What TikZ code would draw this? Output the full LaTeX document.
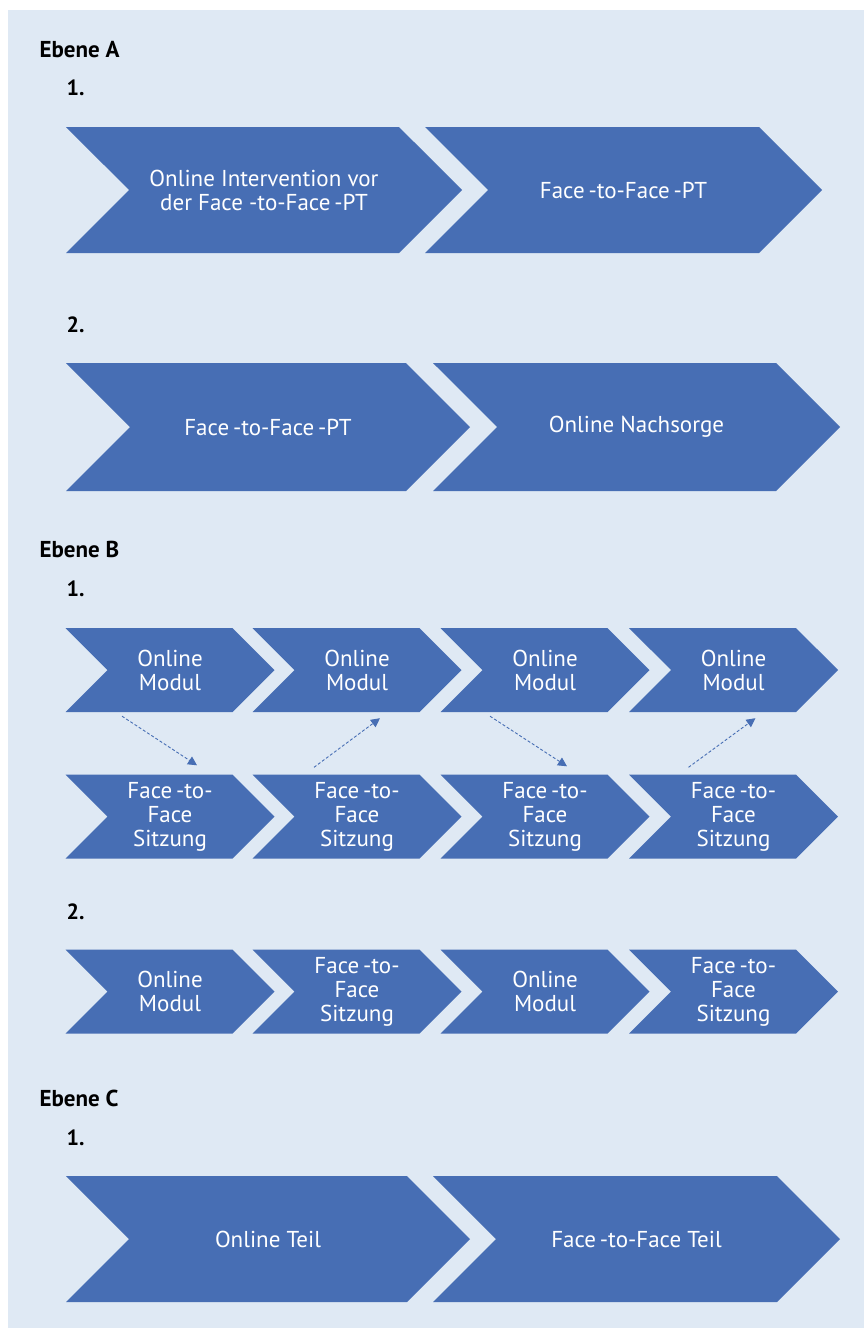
\documentclass[tikz,border=0pt]{standalone}
\usepackage{fontspec}
\setmainfont{PT Sans}
\usetikzlibrary{shapes.symbols,arrows.meta,calc}
\definecolor{chevblue}{RGB}{71,110,180}
\definecolor{panelbg}{RGB}{223,233,244}
\tikzset{
  stage/.style={signal, signal from=west, signal to=east, fill=chevblue,
    text=white, align=center, inner sep=0pt,
    font=\fontsize{23}{24}\selectfont},
  bigstage/.style={stage, minimum height=126pt},
  smallstage/.style={stage, minimum width=209pt, minimum height=84pt},
  level/.style={anchor=base west, font=\fontsize{23}{24}\selectfont\bfseries},
  itemno/.style={anchor=base west, font=\fontsize{22}{24}\selectfont\bfseries},
  link/.style={chevblue, line width=0.9pt, dash pattern=on 3pt off 2pt,
    -{Triangle[width=9pt,length=9pt]}}
}
\begin{document}
\begin{tikzpicture}[x=1pt,y=-1pt]
		\useasboundingbox (0,0) rectangle (864,1328);
		\fill[panelbg] (8,10) rectangle (864,1328);
		% Ebene A
		\node[level] (ebA) at (36,57) {Ebene A};
		\node[itemno] (nA1) at (63,95) {1.};
		\node[bigstage, minimum width=396pt] (a11) at (264,190) {Online Intervention vor\\der Face -to-Face\,-PT};
		\node[bigstage, minimum width=397pt] (a12) at (623.5,190) {Face\,-to-Face\,-PT};
		\node[itemno] (nA2) at (63,332.5) {2.};
		\node[bigstage, minimum width=404pt, minimum height=128pt] (a21) at (268,427) {Face\,-to-Face\,-PT};
		\node[bigstage, minimum width=407pt, minimum height=128pt] (a22) at (636.5,427) {Online Nachsorge};
		% Ebene B
		\node[level] (ebB) at (36,557) {Ebene B};
		\node[itemno] (nB1) at (63,596) {1.};
		\node[smallstage] (b11) at (170,670) {Online\\Modul};
		\node[smallstage] (b12) at (357,670) {Online\\Modul};
		\node[smallstage] (b13) at (545,670) {Online\\Modul};
		\node[smallstage] (b14) at (733.5,670) {Online\\Modul};
		\node[smallstage] (b21) at (170,816.5) {Face\,-to-\\Face\\Sitzung};
		\node[smallstage] (b22) at (357,816.5) {Face\,-to-\\Face\\Sitzung};
		\node[smallstage] (b23) at (545,816.5) {Face\,-to-\\Face\\Sitzung};
		\node[smallstage] (b24) at (733.5,816.5) {Face\,-to-\\Face\\Sitzung};
		\draw[link] ($(b11.south)+(-48,4)$) -- ($(b21.north)+(27,-9)$);
		\draw[link] ($(b22.north)+(-43,-7)$) -- ($(b12.south)+(23,6)$);
		\draw[link] ($(b13.south)+(-55,4)$) -- ($(b23.north)+(22,-8)$);
		\draw[link] ($(b24.north)+(-45,-7)$) -- ($(b14.south)+(22,6)$);
		\node[itemno] (nB2) at (63,919.5) {2.};
		\node[smallstage] (b31) at (170,991.5) {Online\\Modul};
		\node[smallstage] (b32) at (357,991.5) {Face\,-to-\\Face\\Sitzung};
		\node[smallstage] (b33) at (545,991.5) {Online\\Modul};
		\node[smallstage] (b34) at (733.5,991.5) {Face\,-to-\\Face\\Sitzung};
		% Ebene C
		\node[level] (ebC) at (36,1106.5) {Ebene C};
		\node[itemno] (nC1) at (63,1145.5) {1.};
		\node[bigstage, minimum width=404pt] (c11) at (268,1239) {Online Teil};
		\node[bigstage, minimum width=407pt] (c12) at (636.5,1239) {Face\,-to-Face Teil};
\end{tikzpicture}
\end{document}
